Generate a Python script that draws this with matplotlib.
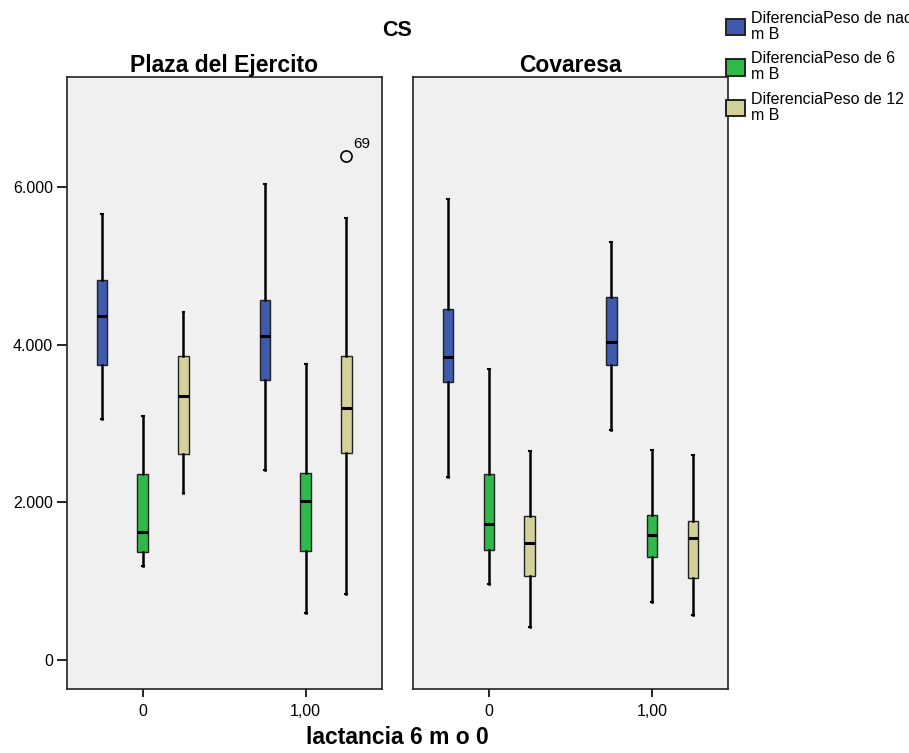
import matplotlib
matplotlib.use("Agg")
import matplotlib.pyplot as plt
from matplotlib.patches import Patch

plt.rcParams['font.family'] = ['Liberation Sans', 'DejaVu Sans']

# Data (whisker low, Q1, median, Q3, whisker high)
categories = ["0", "1,00"]
panels = ["Plaza del Ejercito", "Covaresa"]
series = ["DiferenciaPeso de nacer\nm B", "DiferenciaPeso de 6\nm B", "DiferenciaPeso de 12\nm B"]
colors = ["#3f59ad", "#2fb94b", "#d4d09a"]

plaza_stats = {
    "0": [[3064, 3742, 4365, 4826, 5658],
          [1197, 1365, 1627, 2363, 3095],
          [2124, 2616, 3353, 3859, 4419]],
    "1,00": [[2413, 3547, 4112, 4564, 6042],
             [601, 1378, 2011, 2372, 3751],
             [836, 2625, 3195, 3859, 5612]],
}
covaresa_stats = {
    "0": [[2327, 3534, 3850, 4460, 5847],
          [958, 1396, 1726, 2354, 3696],
          [411, 1071, 1487, 1826, 2648]],
    "1,00": [[2924, 3742, 4040, 4605, 5305],
             [737, 1301, 1582, 1844, 2662],
             [574, 1039, 1545, 1762, 2598]],
}
# outliers: (panel, category, series index, value, case label)
outliers = [(0, "1,00", 2, 6394, "69")]

fig = plt.figure(figsize=(9.09, 7.53), dpi=100)
ax_l = fig.add_axes([0.0734, 0.085, 0.3465, 0.8127])
ax_r = fig.add_axes([0.454, 0.085, 0.3473, 0.8127], sharey=ax_l)

offsets = [-0.25, 0.0, 0.25]
for p, (ax, stats) in enumerate(zip([ax_l, ax_r], [plaza_stats, covaresa_stats])):
    ax.set_facecolor("#f0f0f0")
    for ci, cat in enumerate(categories):
        for si in range(3):
            lo, q1, med, q3, hi = stats[cat][si]
            fl = [o[3] for o in outliers if o[0] == p and o[1] == cat and o[2] == si]
            bstat = dict(whislo=lo, q1=q1, med=med, q3=q3, whishi=hi, fliers=fl)
            ax.bxp([bstat], positions=[ci + offsets[si]], widths=0.065,
                   patch_artist=True, showfliers=True, manage_ticks=False,
                   boxprops=dict(facecolor=colors[si], edgecolor="#222222", linewidth=1.0),
                   medianprops=dict(color="black", linewidth=2.2),
                   whiskerprops=dict(color="black", linewidth=1.8),
                   capprops=dict(color="black", linewidth=1.5),
                   capwidths=0.012,
                   flierprops=dict(marker="o", markerfacecolor="none",
                                   markeredgecolor="black", markersize=8, markeredgewidth=1.2))
    for o in outliers:
        if o[0] == p:
            x = categories.index(o[1]) + offsets[o[2]]
            ax.annotate(o[4], (x, o[3]), xytext=(5, 6), textcoords="offset points",
                        fontsize=11)
    ax.set_xlim(-0.467, 1.467)
    ax.set_xticks(range(len(categories)))
    ax.set_xticklabels(categories, fontsize=11.5)
    ax.tick_params(axis="x", direction="out", length=6, width=1.2, pad=5)
    ax.set_title(panels[p], fontsize=16.5, fontweight="bold", pad=3)
    for s in ax.spines.values():
        s.set_color("#222222")
        s.set_linewidth(1.2)

ax_l.set_ylim(-370, 7400)
ax_l.set_yticks([0, 2000, 4000, 6000])
ax_l.set_yticklabels(["0", "2.000", "4.000", "6.000"], fontsize=11.5)
ax_l.tick_params(axis="y", direction="out", length=7, width=1.2, pad=3)
ax_r.tick_params(axis="y", left=False, labelleft=False)

fig.text(0.437, 0.96, "CS", ha="center", va="center", fontsize=15.5, fontweight="bold")
fig.text(0.437, 0.021, "lactancia 6 m o 0", ha="center", va="center", fontsize=16.5, fontweight="bold")

handles = [Patch(facecolor=c, edgecolor="#222222", linewidth=1.4) for c in colors]
leg = fig.legend(handles, series, loc="upper left", bbox_to_anchor=(0.792, 0.994),
                 frameon=False, fontsize=11.5, handlelength=1.15, handleheight=1.2,
                 handletextpad=0.42, labelspacing=0.57, borderaxespad=0)
for t in leg.get_texts():
    t.set_linespacing(1.1)

fig.savefig("out.png", dpi=100)
